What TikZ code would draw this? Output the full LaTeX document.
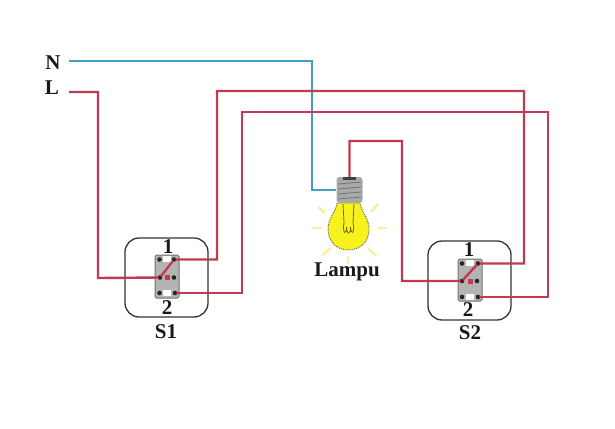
\documentclass[tikz,border=0pt]{standalone}
\usepackage{fontspec}
\setmainfont{Liberation Serif}
\definecolor{wirered}{HTML}{C23A50}
\definecolor{wireblue}{HTML}{3F9FC4}
\definecolor{bodygray}{HTML}{B4B4B4}
\definecolor{bulbyellow}{HTML}{F7F21E}
\definecolor{rayyellow}{HTML}{F4F3A0}
\definecolor{baseg}{HTML}{A9A9A9}
\tikzset{
  lbl/.style={font=\bfseries\fontsize{21}{21}\selectfont,inner sep=0pt,text=black!90},
  wire/.style={line width=2.4pt,line join=miter},
  redwire/.style={wire,draw=wirered},
  bluewire/.style={wire,draw=wireblue},
  frame/.style={draw=black!80,line width=1.3pt,rounded corners=14pt},
  swbody/.style={fill=bodygray,draw=black!55,line width=1pt,rounded corners=1.5pt},
  term/.style={circle,fill=black!85,inner sep=0pt,minimum size=4.6pt},
  pad/.style={fill=white,draw=none,inner sep=0pt,minimum width=8pt,minimum height=5.5pt},
  ctr/.style={fill=wirered,draw=none,inner sep=0pt,minimum size=5pt},
  ray/.style={draw=rayyellow,line width=2.6pt}
}
\begin{document}
\begin{tikzpicture}[x=1pt,y=-1pt]
\useasboundingbox (0,0) rectangle (615,428);
\fill[white] (0,0) rectangle (615,428);
% free ends
\coordinate (nstart) at (69,61);
\coordinate (lstart) at (69,92);
% switch S1
\draw[frame] (125,238) rectangle (208,317);
\draw[swbody] (155,255) rectangle (179,298);
\node[pad] (a1) at (167,259) {};
\node[pad] (a2) at (167,293) {};
\node[ctr] (ac) at (167,277) {};
\node[term] (atr) at (174,259.5) {};
\node[term] (atl) at (159.5,259.5) {};
\node[term] (aml) at (160,277.5) {};
\node[term] (amr) at (174,277.5) {};
\node[term] (abl) at (159.5,293) {};
\node[term] (abr) at (175,293) {};
% switch S2
\draw[frame] (428,241) rectangle (511,320);
\draw[swbody] (458,259) rectangle (482,301);
\node[pad] (b1) at (470,263) {};
\node[pad] (b2) at (470,297) {};
\node[ctr] (bc) at (470,281) {};
\node[term] (btr) at (478,263.5) {};
\node[term] (btl) at (462,263.5) {};
\node[term] (bml) at (462,281) {};
\node[term] (bmr) at (477,281) {};
\node[term] (bbl) at (462,297) {};
\node[term] (bbr) at (478,297) {};
% lamp rays
\foreach \a/\b/\c/\d in {318/207/325/213, 378/204/371/212, 312/228/322/228, 378/228/387/228, 323/255/331/248, 376/256/368/248, 348/256/348/264}{
  \draw[ray] (\a,\b) -- (\c,\d);
}
% lamp glass
\draw[fill=bulbyellow,draw=black!65,line width=.9pt,densely dotted]
  (337,203) .. controls (336,212) and (328,218) .. (328,229)
  .. controls (328,242) and (337,250) .. (348.5,250)
  .. controls (360,250) and (369,242) .. (369,229)
  .. controls (369,218) and (361,212) .. (360,203) -- cycle;
% filament
\draw[draw=black!55!bulbyellow,line width=.8pt]
  (343,204) -- (344,222) (354,204) -- (353,222)
  (344,222) .. controls (342,235) and (347,235) .. (346.5,227)
  .. controls (346.5,235) and (351,235) .. (350.5,227)
  .. controls (351,235) and (355,235) .. (353,222);
% lamp base
\node[fill=baseg,draw=none,minimum width=26pt,minimum height=26pt,inner sep=0pt,rounded corners=3pt] (base) at (349.5,190) {};
\foreach \y in {184,189,194,199}{
  \draw[black!55,line width=.8pt] (338,\y) -- (361,\y-2);
}
\fill[black!75] (343,177) rectangle (356,180);
% wires
\draw[bluewire] (nstart) -- (312,61) -- (312,190) -- (base.west);
\draw[redwire] (lstart) -- (98,92) -- (98,278) -- (aml.center) -- (atr.center) -- (217,259.5) -- (217,91) -- (524,91) -- (524,263.5) -- (btr.center) -- (bml.center) -- (402,281) -- (402,141) -- (349.5,141) -- (base.north);
\draw[redwire] (abr.center) -- (242,293) -- (242,112) -- (548,112) -- (548,297) -- (bbr.center);
% terminals visible above the wire ends
\foreach \t in {atr,aml,abr,btr,bml,bbr}{
  \fill[black!85] (\t.center) circle (1.9pt);
}
% labels
\node[lbl] (ln) at (53,63) {N};
\node[lbl] (ll) at (52,88) {L};
\node[lbl] (lampu) at (347,272) {Lampu};
\node[lbl] (s1) at (166,332) {S1};
\node[lbl] (a1t) at (168,247) {1};
\node[lbl] (a2t) at (167,308) {2};
\node[lbl] (s2) at (470,333) {S2};
\node[lbl] (b1t) at (469,250) {1};
\node[lbl] (b2t) at (468,310) {2};
\end{tikzpicture}
\end{document}
